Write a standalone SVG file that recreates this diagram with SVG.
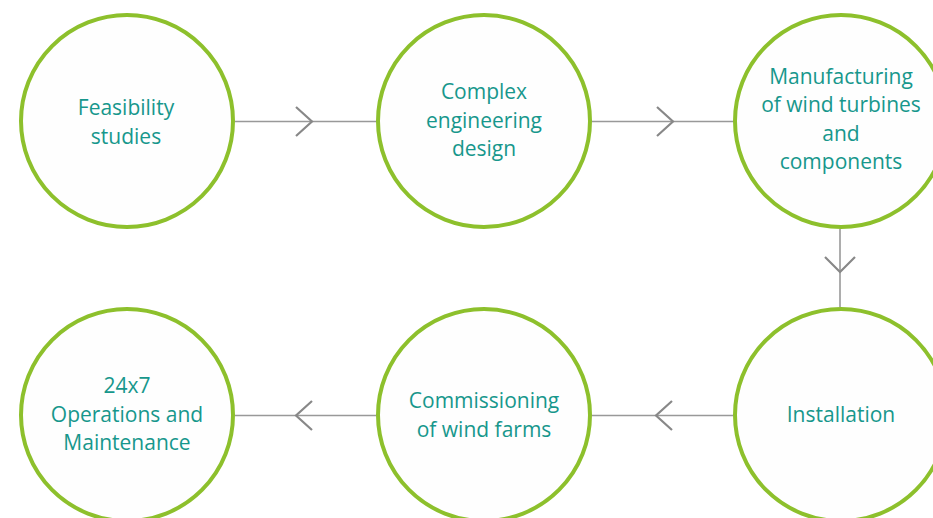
<svg xmlns="http://www.w3.org/2000/svg" width="933" height="518" viewBox="0 0 933 518">
<style>
.node circle{fill:#fefefe;stroke:#8dc02c;stroke-width:4}
.node text{font-family:"Open Sans","Noto Sans",sans-serif;font-size:21px;fill:#17978c;text-anchor:middle}
.conn line{stroke:#999;stroke-width:1.6}
.conn polyline{fill:none;stroke:#888;stroke-width:2.2}
</style>
<rect width="933" height="518" fill="#fff"/>
<g id="connectors" class="conn">
<line x1="235" y1="121.5" x2="377" y2="121.5"/>
<polyline points="296,107 312,121.5 296,136"/>
<line x1="592" y1="121.5" x2="734" y2="121.5"/>
<polyline points="657,107 673,121.5 657,136"/>
<line x1="840" y1="229" x2="840" y2="307"/>
<polyline points="825,257 840,272 855,257"/>
<line x1="733" y1="415.5" x2="592" y2="415.5"/>
<polyline points="672,401 656,415.5 672,430"/>
<line x1="376" y1="415.5" x2="235" y2="415.5"/>
<polyline points="312,401 296,415.5 312,430"/>
</g>
<g id="n1" class="node"><circle cx="127" cy="121" r="106"/>
<text x="126" y="115">Feasibility</text><text x="126" y="143.5">studies</text></g>
<g id="n2" class="node"><circle cx="484" cy="121" r="106"/>
<text x="484" y="99">Complex</text><text x="484" y="127.5">engineering</text><text x="484" y="156">design</text></g>
<g id="n3" class="node"><circle cx="841" cy="121" r="106"/>
<text x="841" y="83.5">Manufacturing</text><text x="841" y="112">of wind turbines</text><text x="841" y="140.5">and</text><text x="841" y="169">components</text></g>
<g id="n4" class="node"><circle cx="841" cy="415" r="106"/>
<text x="841" y="422">Installation</text></g>
<g id="n5" class="node"><circle cx="484" cy="415" r="106"/>
<text x="484" y="408">Commissioning</text><text x="484" y="436.5">of wind farms</text></g>
<g id="n6" class="node"><circle cx="127" cy="415" r="106"/>
<text x="127" y="393">24x7</text><text x="127" y="421.5">Operations and</text><text x="127" y="450">Maintenance</text></g>
</svg>
